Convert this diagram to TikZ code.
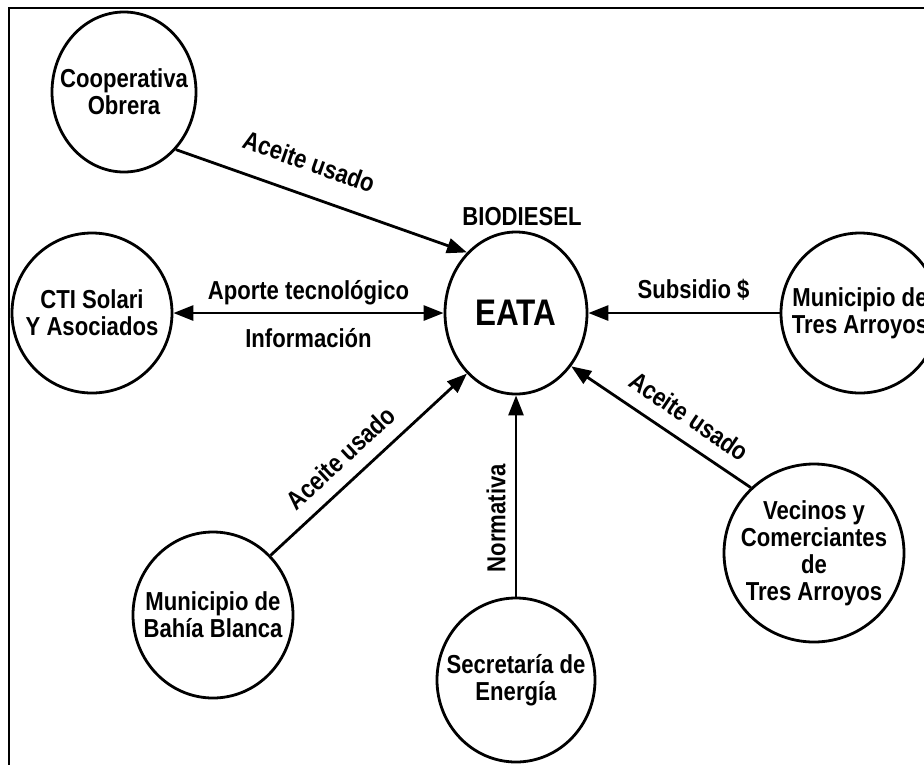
\documentclass[tikz,border=0pt]{standalone}
\usepackage{fontspec}
\setmainfont{Liberation Sans}[FakeStretch=0.85]
\usetikzlibrary{shapes.geometric, arrows.meta}

\begin{document}
\begin{tikzpicture}[
    x=1pt, y=-1pt,
    font=\bfseries\fontsize{26}{27}\selectfont,
    actor/.style={ellipse, draw, line width=2.8pt, inner sep=0pt},
    flow/.style={line width=2.8pt, -{Triangle[length=20pt,width=15pt]}},
    tag/.style={inner sep=2pt}
]
    \useasboundingbox (0,0) rectangle (924,764);
    \draw[line width=1.5pt] (9,8) rectangle (940,780);

    % Central entity
    \node at (516, 313) [actor, minimum width=142pt, minimum height=162pt,
                         font=\bfseries\fontsize{37}{40}\selectfont] (eata) {EATA};
    \node at (522, 217) [font=\bfseries\fontsize{26}{28}\selectfont] (bio) {BIODIESEL};

    % Surrounding actors
    \node at (124, 92) [actor, minimum width=144pt, minimum height=160pt,
                        label={[align=center]center:Cooperativa\\Obrera}] (coop) {};
    \node at (92, 313) [actor, minimum width=160pt, minimum height=160pt,
                        label={[align=center]center:CTI Solari\\Y Asociados}] (cti) {};
    \node at (860, 313) [actor, minimum width=158pt, minimum height=160pt,
                         label={[align=center]center:Municipio de\\Tres Arroyos}] (mta) {};
    \node at (814, 553) [actor, minimum width=180pt, minimum height=178pt,
                         label={[align=center]center:Vecinos y\\Comerciantes\\de\\Tres Arroyos}] (vec) {};
    \node at (213, 615) [actor, minimum width=160pt, minimum height=166pt,
                         label={[align=center]center:Municipio de\\Bahía Blanca}] (mbb) {};
    \node at (516, 680) [actor, minimum width=158pt, minimum height=164pt,
                         label={[align=center]center:Secretaría de\\Energía}] (sec) {};

    % Flows into EATA
    \draw[flow] (coop.-48) -- node[tag, sloped, above=20pt, pos=0.42] (oilcoop) {Aceite usado} (eata.129);
    \draw[flow, {Triangle[length=20pt,width=15pt]}-{Triangle[length=20pt,width=15pt]}]
        (cti.east) -- node[tag, above=4.5pt] (tech) {Aporte tecnológico}
                      node[tag, below=12pt] (info) {Información} (eata.west);
    \draw[flow] (mta.west) -- node[tag, above=9pt, pos=0.45] (subs) {Subsidio \$} (eata.east);
    \draw[flow] (vec.134) -- node[tag, sloped, above=12pt, pos=0.42] (oilvec) {Aceite usado} (eata.-44);
    \draw[flow] (mbb.46) -- node[tag, sloped, above=11pt, pos=0.44] (oilmbb) {Aceite usado} (eata.231);
    \draw[flow] (sec.north) -- node[tag, sloped, above=7pt, pos=0.39] (norm) {Normativa} (eata.south);
\end{tikzpicture}
\end{document}
